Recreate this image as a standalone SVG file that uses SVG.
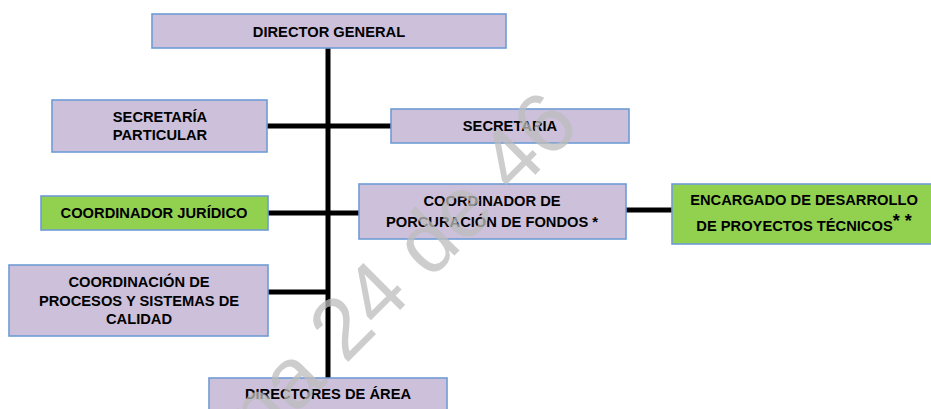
<svg xmlns="http://www.w3.org/2000/svg" width="931" height="409" viewBox="0 0 931 409">
<style>
.box{stroke:#6f9bd4;stroke-width:1.6}
.p{fill:#ccc0da}
.g{fill:#92d050}
.t{font-family:"Liberation Sans",Arial,sans-serif;font-weight:bold;font-size:14.7px;fill:#000;text-anchor:middle}
.ln{stroke:#000;stroke-width:5;fill:none}
.wm{font-family:"Liberation Sans",Arial,sans-serif;font-size:86px;fill:#bcbcbc;fill-opacity:0.75}
</style>
<rect width="931" height="409" fill="#fff"/>
<g id="connectors">
<line class="ln" x1="328" y1="48" x2="328" y2="378"/>
<line class="ln" x1="267" y1="126" x2="391" y2="126"/>
<line class="ln" x1="268" y1="213" x2="359" y2="213"/>
<line class="ln" x1="626" y1="210" x2="673" y2="210"/>
<line class="ln" x1="268" y1="292" x2="328" y2="292"/>
</g>
<g id="director-general">
<rect class="box p" x="152" y="14" width="354" height="34"/>
<text class="t" x="329" y="37">DIRECTOR GENERAL</text>
</g>
<g id="secretaria-particular">
<rect class="box p" x="52" y="100" width="215" height="52"/>
<text class="t" x="160" y="122">SECRETARÍA</text>
<text class="t" x="160" y="140">PARTICULAR</text>
</g>
<g id="secretaria">
<rect class="box p" x="391" y="109" width="238" height="34"/>
<text class="t" x="510" y="131">SECRETARIA</text>
</g>
<g id="coordinador-juridico">
<rect class="box g" x="41" y="196" width="227" height="34"/>
<text class="t" x="154" y="218">COORDINADOR  JURÍDICO</text>
</g>
<g id="coordinador-porcuracion">
<rect class="box p" x="359" y="184" width="267" height="55"/>
<text class="t" x="492" y="206">COORDINADOR  DE</text>
<text class="t" x="492" y="227">PORCURACIÓN DE FONDOS *</text>
</g>
<g id="encargado-desarrollo">
<rect class="box g" x="672" y="184" width="262" height="60"/>
<text class="t" x="804" y="205">ENCARGADO  DE DESARROLLO</text>
<text class="t" x="804" y="231">DE PROYECTOS TÉCNICOS<tspan font-size="18" dy="-4">* *</tspan></text>
</g>
<g id="coordinacion-procesos">
<rect class="box p" x="9" y="265" width="259" height="71"/>
<text class="t" x="139" y="287">COORDINACIÓN  DE</text>
<text class="t" x="139" y="306">PROCESOS Y SISTEMAS DE</text>
<text class="t" x="139" y="324">CALIDAD</text>
</g>
<g id="directores-area">
<rect class="box p" x="209" y="378" width="238" height="40"/>
<text class="t" x="328" y="399">DIRECTORES DE ÁREA</text>
</g>
<text class="wm" x="582" y="128" text-anchor="end" transform="rotate(-45 582 128)">Página 24 de 46</text>
</svg>
